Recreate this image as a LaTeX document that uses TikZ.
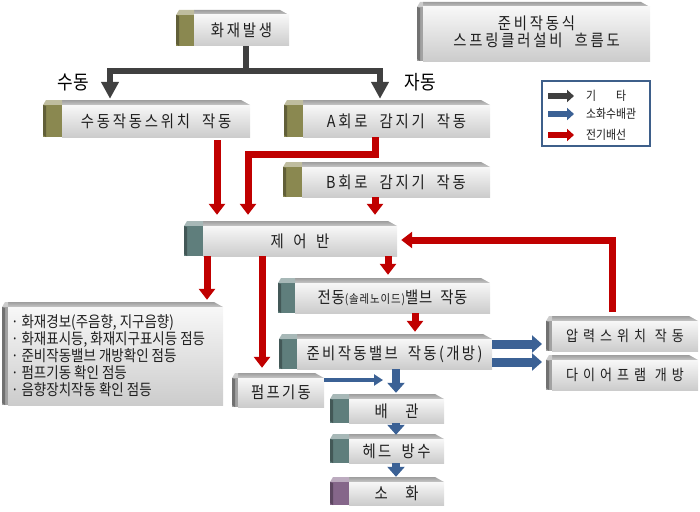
\documentclass[tikz,border=0pt]{standalone}
\usepackage{fontspec}
\setmainfont{Noto Sans CJK KR}[FakeStretch=0.87]
\newfontfamily\plfont{Noto Sans CJK KR}[FakeStretch=0.87]
\usetikzlibrary{arrows.meta}
% letter spacing helper
\newdimen\lsgap \lsgap=2.8pt
\makeatletter
\newcommand\lsp[1]{\@tfor\lstok:=#1\do{\lstok\kern\lsgap}\unkern}
\makeatother
\newcommand\wsp{\hspace{12pt}}
\definecolor{redc}{HTML}{C00000}
\definecolor{bluec}{HTML}{3B6195}
\definecolor{darkc}{HTML}{404040}
\definecolor{olivec}{HTML}{8A8850}
\definecolor{tealc}{HTML}{5F7E7C}
\definecolor{purpc}{HTML}{85668A}
\definecolor{grayc}{HTML}{A2A2A2}
\definecolor{txtc}{HTML}{1E1E1E}
\definecolor{legbd}{HTML}{3E5F8A}
\tikzset{
  face/.style={shade, top color=white!97!black, bottom color=white!80!black, inner sep=0pt, text=txtc, font=\plfont\fontsize{16.5}{18}\selectfont},
  redar/.style={redc, line width=7pt, -{Triangle[width=16pt,length=11pt]}},
  bluear/.style={bluec, line width=9pt, -{Triangle[width=17pt,length=10pt]}},
  bluedn/.style={bluec, line width=8pt, -{Triangle[width=17pt,length=10pt]}},
  bluethin/.style={bluec, line width=4.5pt, -{Triangle[width=11pt,length=9pt]}},
  grayar/.style={darkc, line width=5.5pt, -{Triangle[width=17pt,length=17pt]}},
  grayline/.style={darkc, line width=5.5pt},
  legar/.style={line width=6pt, -{Triangle[width=12pt,length=7pt]}},
  legtxt/.style={anchor=west, inner sep=0pt, text=txtc, font=\plfont\fontsize{12.5}{14}\selectfont},
  sidetxt/.style={inner sep=0pt, text=black, font=\plfont\fontsize{19.5}{21}\selectfont}
}
% #1 name, #2 x1, #3 y1, #4 x2, #5 y2, #6 block width, #7 block colour, #8 text
\newcommand\threedbox[8]{%
  \shade[top color=white!62!black, bottom color=white!78!black] (#2+#6,#3) -- (#4-9,#3) -- (#4,#3+5) -- (#2+#6,#3+5) -- cycle;
  \fill[#7!55!white] (#2,#3+5) -- (#2+3,#3) -- (#2+#6,#3) -- (#2+#6,#3+5) -- cycle;
  \fill[#7] (#2,#3+5) rectangle (#2+#6,#5);
  \fill[#7!70!black] (#2,#3+5) -- (#2+3,#3+6) -- (#2+3,#5) -- (#2,#5-2) -- cycle;
  \node[face, minimum width={(#4-#2-#6)*1pt}, minimum height={(#5-#3-5)*1pt}] (#1) at ({(#2+#6+#4)/2},{(#3+5+#5)/2}) {#8};
}
\begin{document}
\begin{tikzpicture}[x=1pt,y=-1pt]
\useasboundingbox (0,0) rectangle (700,511);

% boxes
\threedbox{fire}{176}{10}{289}{46}{18}{olivec}{\lsp{화재발생}}
\threedbox{title}{417}{2}{650}{61}{6}{grayc}{\begin{tabular}{@{}c@{}}\lsp{준비작동식}\\[-2pt]\lsp{스프링클러설비}\wsp\lsp{흐름도}\end{tabular}}
\threedbox{sudong}{43}{100}{250}{137}{19}{olivec}{\lsp{수동작동스위치}\wsp\lsp{작동}}
\threedbox{acirc}{284}{100}{490}{137}{19}{olivec}{\lsp{A회로}\wsp\lsp{감지기}\wsp\lsp{작동}}
\threedbox{bcirc}{283}{162}{490}{197}{19}{olivec}{\lsp{B회로}\wsp\lsp{감지기}\wsp\lsp{작동}}
\threedbox{panel}{184}{221}{397}{256}{19}{tealc}{제\hspace{9.5pt}어\hspace{9.5pt}반}
\threedbox{info}{2}{302}{223}{405}{6}{grayc}{\parbox{209pt}{\fontsize{15.5}{17}\selectfont
· 화재경보(주음향, 지구음향)\\
· 화재표시등, 화재지구표시등 점등\\
· 준비작동밸브 개방확인 점등\\
· 펌프기동 확인 점등\\
· 음향장치작동 확인 점등}}
\threedbox{sol}{278}{278}{490}{313}{17}{tealc}{\lsgap=0.6pt\lsp{전동}{\fontsize{12}{13}\selectfont\lsgap=0.9pt\lsp{(솔레노이드)}}\lsp{밸브}\hspace{8pt}\lsp{작동}}
\threedbox{prev}{279}{334}{492}{369}{18}{tealc}{\lsgap=2.4pt\lsp{준비작동밸브}\hspace{10pt}\lsp{작동(개방)}}
\threedbox{press}{546}{316}{698}{351}{6}{grayc}{\fontsize{15}{17}\selectfont\lsgap=5pt\lsp{압력스위치}\hspace{8.7pt}\lsp{작동}}
\threedbox{diaph}{546}{355}{698}{390}{6}{grayc}{\fontsize{15}{17}\selectfont\lsgap=5pt\lsp{다이어프램}\hspace{8.7pt}\lsp{개방}}
\threedbox{pump}{232}{373}{324}{407}{6}{grayc}{\lsgap=2.3pt\lsp{펌프기동}}
\threedbox{pipe}{330}{394}{444}{423}{19}{tealc}{배\hspace{17.5pt}관}
\threedbox{head}{330}{434}{444}{463}{19}{tealc}{\lsgap=2.3pt\lsp{헤드}\hspace{10.5pt}\lsp{방수}}
\threedbox{ext}{330}{477}{444}{505}{19}{purpc}{소\hspace{17.5pt}화}

% labels
\node[sidetxt] (lsu) at (73,83) {수동};
\node[sidetxt] (lja) at (420,82) {자동};

% gray fork
\coordinate (fork) at (246,71);
\coordinate (suN) at ([yshift=6pt]sudong.north);
\coordinate (acN) at ([yshift=6pt]acirc.north);
\draw[grayline] (fire.south -| fork) -- (fork);
\draw[grayar] (fork) -| (suN -| 110,0);
\draw[grayar] ([xshift=-2.75pt]fork) -| (acN -| 380,0);

% red connectors
\coordinate (pnN) at ([yshift=11pt]panel.north);
\draw[redar] ([yshift=-3pt]sudong.south -| 217,0) -- (pnN -| 217,0);
\draw[redar] (acirc.south -| 375,0) -- (375,154) -| (pnN -| 248,0);
\draw[redar] (bcirc.south -| 375,0) -- (pnN -| 375,0);
\coordinate (prN) at ([yshift=9pt]press.north);
\draw[redar] (prN -| 612,0) -- (612,240) -- ([xshift=4pt]panel.east |- 0,240);
\draw[redar] (panel.south -| 207,0) -- ([yshift=7pt]info.north -| 207,0);
\draw[redar] (panel.south -| 262,0) -- ([yshift=10pt]pump.north -| 262,0);
\draw[redar] (panel.south -| 388,0) -- ([yshift=8pt]sol.north -| 388,0);
\draw[redar] (sol.south -| 415,0) -- ([yshift=7pt]prev.north -| 415,0);

% blue connectors
\coordinate (pvA) at ([yshift=10pt]prev.east);
\coordinate (pvB) at ([yshift=-8pt]prev.east);
\draw[bluear] (pvA) -- (pvA -| 542,0);
\draw[bluear] (pvB) -- (pvB -| 542,0);
\coordinate (pmE) at ([yshift=12.5pt]pump.east);
\draw[bluethin] (pmE) -- (pmE -| 383,0);
\draw[bluedn] (prev.south -| 396,0) -- ([yshift=6pt]pipe.north -| 396,0);
\draw[bluedn] (pipe.south -| 396,0) -- ([yshift=4pt]head.north -| 396,0);
\draw[bluedn] (head.south -| 396,0) -- ([yshift=5pt]ext.north -| 396,0);

% legend
\node[draw=legbd, line width=1.5pt, fill=white, minimum width=108pt, minimum height=65pt, inner sep=0pt] (legend) at (596,113.5) {};
\draw[legar, darkc] (548,96) -- (574,96);
\draw[legar, bluec] (548,114) -- (574,114);
\draw[legar, redc] (548,135) -- (574,135);
\node[legtxt] (lg1) at (586,96) {기\hspace{20pt}타};
\node[legtxt] (lg2) at (586,114) {소화수배관};
\node[legtxt] (lg3) at (586,135) {전기배선};
\end{tikzpicture}
\end{document}
